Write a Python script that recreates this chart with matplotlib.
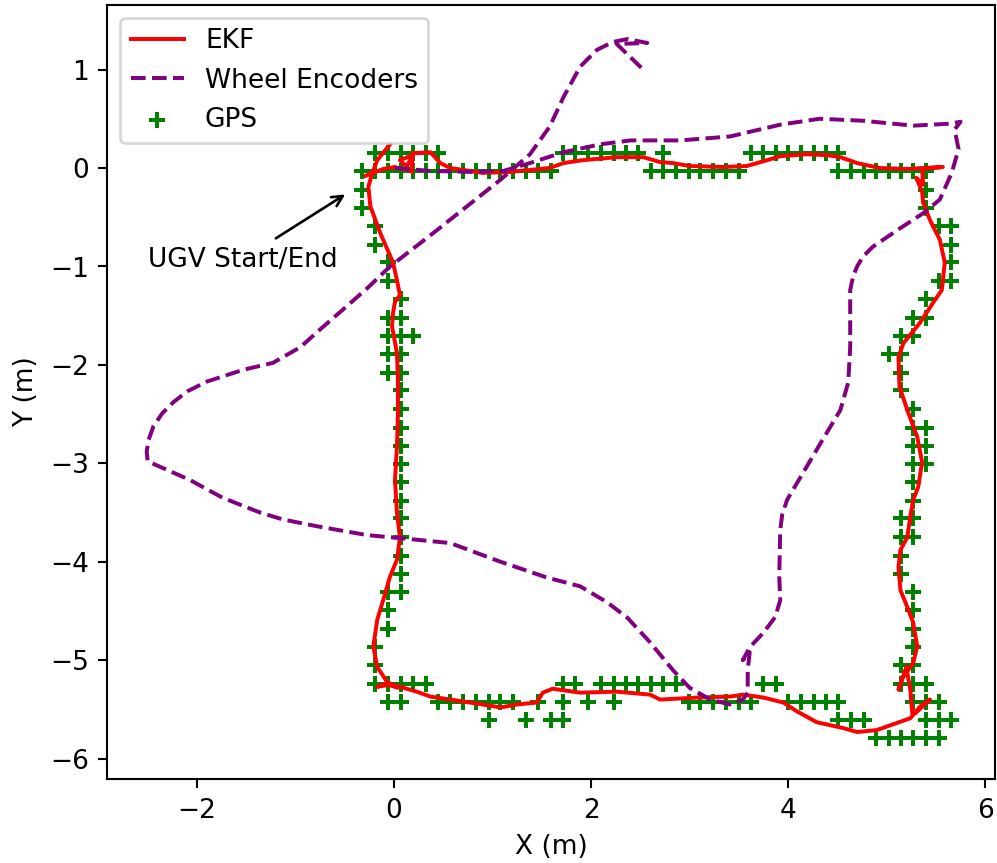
#!/usr/bin/env python

import matplotlib

matplotlib.use("Agg")
import matplotlib.pyplot as plt
import numpy as np

# EKF estimate (m)
ekf_x = [-0.29, -0.11, 0.01, 0.11, 0.19, 0.06, 0.18, 0.19, 0.37, 0.47, 0.57, 0.90,
         1.18, 1.58, 1.72, 1.92, 2.26, 2.53, 2.70, 2.83, 3.00, 3.34, 3.58, 3.79,
         3.92, 4.19, 4.40, 4.53, 4.70, 4.93, 5.21, 5.37, 5.57, 5.36, 5.37, 5.30,
         5.36, 5.37, 5.44, 5.54, 5.59, 5.56, 5.47, 5.34, 5.17, 5.12, 5.13, 5.21,
         5.31, 5.36, 5.32, 5.27, 5.24, 5.21, 5.14, 5.12, 5.14, 5.21, 5.27, 5.31,
         5.27, 5.16, 5.12, 5.20, 5.24, 5.26, 5.29, 5.44, 5.34, 5.24, 4.90, 4.70,
         4.56, 4.29, 4.09, 3.95, 3.75, 3.54, 3.41, 3.08, 2.70, 2.60, 2.26, 1.89,
         1.61, 1.51, 1.45, 1.25, 1.08, 0.90, 0.57, 0.37, 0.23, 0.06, -0.04, -0.17,
         -0.09, 0.04, -0.07, -0.17, -0.21, -0.17, -0.11, -0.04, 0.03, 0.04, 0.06,
         0.03, 0.01, 0.03, 0.04, 0.04, 0.03, -0.02, -0.01, 0.01, 0.06, 0.03,
         -0.01, -0.14, -0.24, -0.26, -0.22, -0.17, -0.04]
ekf_y = [-0.08, -0.01, 0.01, -0.02, 0.13, 0.08, -0.04, 0.15, 0.16, 0.05, 0.00, -0.05,
         -0.04, 0.00, 0.05, 0.08, 0.11, 0.11, 0.06, 0.05, 0.02, 0.01, 0.02, 0.08,
         0.12, 0.14, 0.13, 0.11, 0.05, 0.00, -0.01, 0.00, 0.01, -0.01, -0.17, -0.10,
         -0.24, -0.35, -0.53, -0.73, -0.96, -1.24, -1.37, -1.57, -1.78, -1.92, -2.22, -2.46,
         -2.73, -2.99, -3.24, -3.37, -3.54, -3.75, -3.88, -4.05, -4.29, -4.46, -4.62, -4.86,
         -5.03, -5.18, -5.30, -5.07, -5.30, -5.54, -5.54, -5.40, -5.47, -5.59, -5.71, -5.73,
         -5.69, -5.63, -5.52, -5.43, -5.38, -5.35, -5.37, -5.38, -5.40, -5.35, -5.32, -5.33,
         -5.29, -5.33, -5.43, -5.45, -5.48, -5.45, -5.40, -5.37, -5.32, -5.27, -5.25, -5.27,
         -5.24, -5.28, -5.22, -5.07, -4.86, -4.59, -4.39, -4.15, -3.98, -3.91, -3.75,
         -3.50, -3.17, -2.83, -2.49, -2.15, -1.88, -1.61, -1.47, -1.36, -1.29, -1.14,
         -0.96, -0.66, -0.39, -0.19, -0.05, 0.08, 0.24]

# Wheel encoder odometry (m)
enc_x = [0.01, 0.37, 0.77, 1.11, 1.38, 1.72, 2.09, 2.40, 2.90, 3.41, 3.92, 4.32,
         4.76, 5.27, 5.64, 5.75, 5.69, 5.73, 5.66, 5.54, 5.37, 5.11, 4.86, 4.76,
         4.70, 4.66, 4.63, 4.63, 4.63, 4.61, 4.53, 4.35, 4.15, 3.99, 3.94, 3.92,
         3.91, 3.92, 3.87, 3.75, 3.61, 3.54, 3.61, 3.59, 3.59, 3.54, 3.41, 3.21,
         3.00, 2.83, 2.60, 2.37, 2.16, 1.89, 1.55, 1.08, 0.57, 0.06, -0.27, -0.78,
         -1.13, -1.36, -1.74, -2.07, -2.50, -2.51, -2.49, -2.44, -2.35, -2.24, -2.10,
         -1.90, -1.53, -1.23, -0.95, -0.75, -0.52, -0.27, -0.04, 0.40, 1.08, 1.38,
         1.58, 1.72, 1.89, 2.06, 2.22, 2.37, 2.57, 2.26, 2.55]
enc_y = [0.00, -0.03, -0.04, -0.03, 0.05, 0.16, 0.24, 0.28, 0.28, 0.32, 0.44, 0.50,
         0.48, 0.43, 0.45, 0.47, 0.39, 0.19, -0.05, -0.32, -0.46, -0.63, -0.80, -0.90,
         -1.00, -1.10, -1.24, -1.54, -1.82, -2.18, -2.46, -2.76, -3.10, -3.37, -3.52, -3.68,
         -4.15, -4.39, -4.56, -4.72, -4.87, -5.00, -4.92, -5.10, -5.33, -5.40, -5.45, -5.40,
         -5.28, -5.10, -4.82, -4.57, -4.41, -4.25, -4.16, -4.00, -3.81, -3.76, -3.73, -3.64,
         -3.57, -3.50, -3.35, -3.17, -2.98, -2.88, -2.76, -2.62, -2.49, -2.38, -2.27,
         -2.17, -2.05, -1.98, -1.82, -1.64, -1.44, -1.22, -1.00, -0.66, -0.12, 0.14,
         0.42, 0.72, 1.03, 1.20, 1.28, 1.31, 1.27, 1.26, 0.98]

# GPS fixes (m), grouped by northing row
gps_row_y = [0.15, -0.03, -0.22, -0.41, -0.59, -0.78, -0.96, -1.15, -1.33, -1.52,
             -1.71, -1.89, -2.08, -2.26, -2.45, -2.64, -2.82, -3.01, -3.19, -3.38,
             -3.56, -3.75, -3.94, -4.12, -4.31, -4.49, -4.68, -4.87, -5.05, -5.24,
             -5.42, -5.61, -5.79]
gps_row_x = [
    [-0.19, -0.06, 0.07, 0.19, 0.32, 0.45, 1.72, 1.84, 1.97, 2.10, 2.23, 2.35, 2.48,
     2.73, 3.62, 3.75, 3.88, 4.00, 4.13, 4.26, 4.38, 4.51],
    [-0.32, -0.19, -0.06, 0.07, 0.19, 0.32, 0.45, 0.57, 0.70, 0.83, 0.96, 1.08, 1.21,
     1.34, 1.46, 1.59, 2.61, 2.73, 2.86, 2.99, 3.11, 3.24, 3.37, 3.50, 4.51, 4.64,
     4.77, 4.89, 5.02, 5.15, 5.27, 5.40],
    [-0.32, 5.40],
    [-0.32, 5.40],
    [-0.19, 5.53, 5.65],
    [-0.19, 5.65],
    [-0.06, 5.65],
    [-0.06, 5.53, 5.65],
    [0.07, 5.40],
    [-0.06, 0.07, 5.27, 5.40],
    [-0.06, 0.07, 0.19, 5.15, 5.27],
    [-0.06, 0.07, 5.02, 5.15],
    [-0.06, 0.07, 5.15],
    [0.07, 5.15],
    [0.07, 5.27],
    [0.07, 5.27, 5.40],
    [0.07, 5.27, 5.40],
    [0.07, 5.27, 5.40],
    [0.07, 5.27],
    [0.07, 5.27],
    [0.07, 5.15, 5.27],
    [0.07, 5.15, 5.27],
    [0.07, 5.15],
    [0.07, 5.15],
    [-0.06, 0.07, 5.27],
    [-0.06, 5.27],
    [-0.06, 5.27],
    [-0.19, 5.27],
    [-0.19, 5.15, 5.27],
    [-0.19, -0.06, 0.07, 0.19, 0.32, 1.72, 1.84, 2.10, 2.23, 2.35, 2.48, 2.61, 2.73,
     2.86, 3.75, 3.88, 5.15, 5.27, 5.40],
    [-0.06, 0.07, 0.45, 0.57, 0.70, 0.83, 0.96, 1.08, 1.21, 1.46, 1.72, 1.97, 2.23,
     2.99, 3.11, 3.24, 3.37, 3.50, 3.62, 4.00, 4.13, 4.26, 4.38, 4.51, 5.27, 5.40,
     5.53],
    [0.96, 1.34, 1.59, 1.72, 4.51, 4.64, 4.77, 5.40, 5.53, 5.65],
    [4.89, 5.02, 5.15, 5.27, 5.40, 5.53],
]

gps_x = np.concatenate([np.array(row) for row in gps_row_x])
gps_y = np.concatenate([np.full(len(row), y) for row, y in zip(gps_row_x, gps_row_y)])

fig = plt.figure(figsize=(5.2475, 4.5425), dpi=190)
ax = fig.add_axes([0.1076, 0.097, 0.998 - 0.1076, 0.9946 - 0.097])

ax.plot(ekf_x, ekf_y, color="red", linewidth=1.5, label="EKF")
ax.plot(enc_x, enc_y, color="purple", linestyle="--", linewidth=1.5,
        label="Wheel Encoders")
ax.scatter(gps_x, gps_y, marker="+", color="green", label="GPS")

ax.annotate("UGV Start/End", xy=(-0.45, -0.24), xytext=(-2.5, -1.0),
            arrowprops=dict(arrowstyle="->", color="black"))

ax.set_xlim(-2.91, 6.10)
ax.set_ylim(-6.21, 1.66)
ax.set_xlabel("X (m)")
ax.set_ylabel("Y (m)")
ax.legend(loc="upper left")

fig.savefig("out.png", dpi=190)
